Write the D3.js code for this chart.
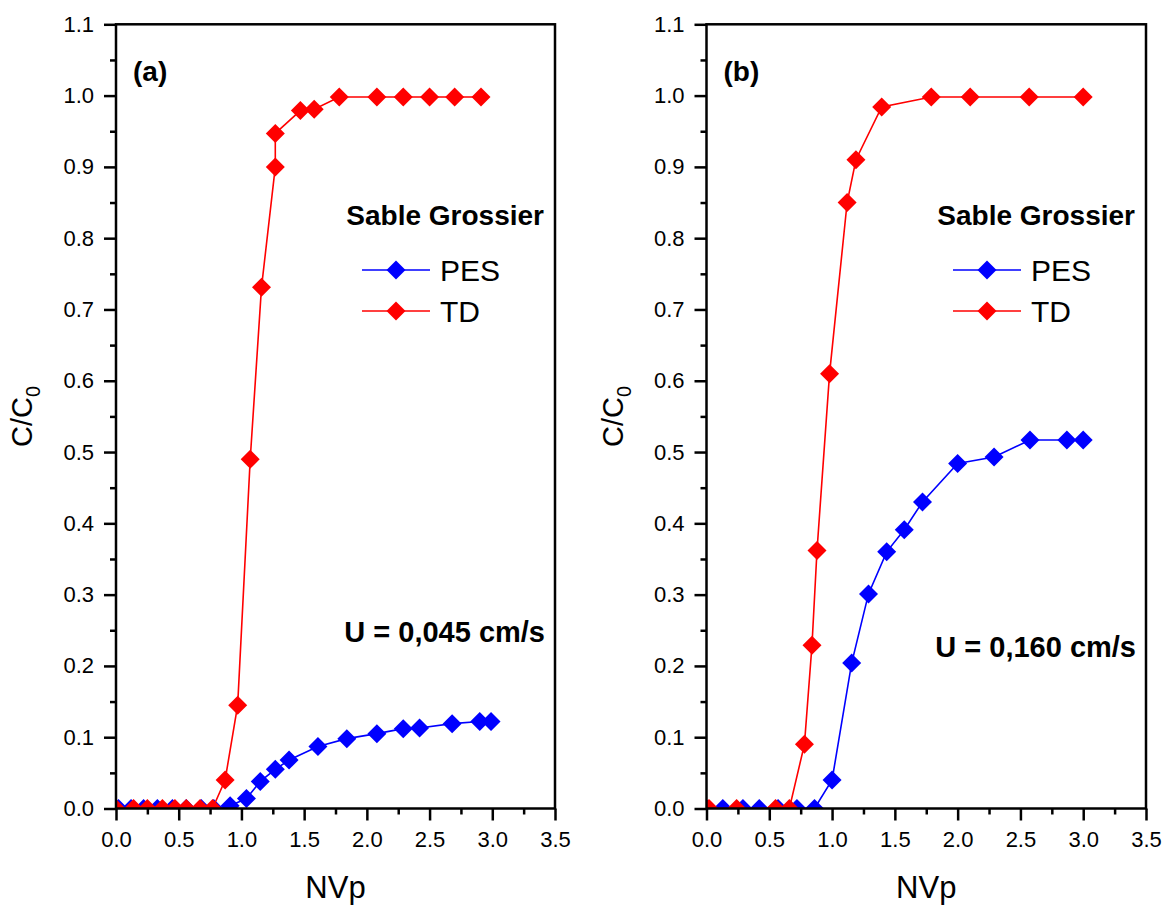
<!DOCTYPE html>
<html><head><meta charset="utf-8">
<script src="https://cdn.jsdelivr.net/npm/d3@7"></script>
<style>
body{margin:0;background:#fff;}
text{font-family:"Liberation Sans",Arial,sans-serif;}
</style></head>
<body><svg id="c" width="1168" height="913"></svg>
<script>
// Panel (a) U = 0,045 cm/s
const pesA_x = [0.02,0.12,0.22,0.33,0.45,0.56,0.68,0.78,0.91,1.04,1.15,1.27,1.38,1.61,1.84,2.08,2.29,2.42,2.68,2.90,2.99];
const pesA_y = [0,0,0,0,0,0,0,0,0.004,0.014,0.038,0.055,0.068,0.087,0.098,0.105,0.112,0.113,0.119,0.122,0.122];
const tdA_x = [0.0,0.14,0.25,0.37,0.47,0.56,0.67,0.77,0.87,0.97,1.07,1.16,1.27,1.27,1.47,1.58,1.78,2.08,2.29,2.50,2.70,2.91];
const tdA_y = [0,0,0,0,0,0,0,0,0.04,0.145,0.49,0.731,0.90,0.947,0.979,0.981,0.998,0.998,0.998,0.998,0.998,0.998];
// Panel (b) U = 0,160 cm/s
const pesB_x = [0.0,0.13,0.29,0.42,0.57,0.72,0.86,1.0,1.156,1.29,1.435,1.575,1.72,2.0,2.29,2.576,2.87,3.0];
const pesB_y = [0,0,0,0,0,0,0,0.04,0.204,0.301,0.36,0.391,0.43,0.484,0.493,0.517,0.517,0.517];
const tdB_x = [0.02,0.24,0.55,0.66,0.78,0.84,0.88,0.98,1.12,1.19,1.395,1.79,2.1,2.57,3.0];
const tdB_y = [0,0,0,0,0.09,0.229,0.362,0.61,0.85,0.91,0.984,0.998,0.998,0.998,0.998];
const xTicks = [0,0.5,1,1.5,2,2.5,3,3.5];
const yTicks = [0,0.1,0.2,0.3,0.4,0.5,0.6,0.7,0.8,0.9,1.0,1.1];
const panelLabels = ["(a)","(b)"];
const velocityLabels = ["U = 0,045 cm/s","U = 0,160 cm/s"];
const legendTitle = "Sable Grossier";
const seriesNames = ["PES","TD"];
const seriesColors = ["#0000ff","#ff0000"];

const svg = d3.select("#c");
const y = d3.scaleLinear().domain([0,1.1]).range([808.5,24.3]);
const panels = [
  {x0:116, x1:555, pes:[pesA_x,pesA_y], td:[tdA_x,tdA_y], lab:panelLabels[0], u:velocityLabels[0], uY:642},
  {x0:706.5, x1:1146, pes:[pesB_x,pesB_y], td:[tdB_x,tdB_y], lab:panelLabels[1], u:velocityLabels[1], uY:657}
];
const diamond = r => `M0,${-r}L${r},0L0,${r}L${-r},0Z`;

panels.forEach((p,pi)=>{
  const x = d3.scaleLinear().domain([0,3.5]).range([p.x0,p.x1]);
  const g = svg.append("g");
  const cid = "clip"+pi;
  svg.append("clipPath").attr("id",cid).append("rect")
    .attr("x",p.x0).attr("y",y(1.1)).attr("width",p.x1-p.x0).attr("height",y(0)-y(1.1));
  // series (clipped to plot area)
  const sg = g.append("g").attr("clip-path",`url(#${cid})`);
  [[p.pes,seriesColors[0]],[p.td,seriesColors[1]]].forEach(([s,c])=>{
    const pts = s[0].map((v,i)=>[x(v),y(s[1][i])]);
    sg.append("path").attr("d",d3.line()(pts)).attr("fill","none").attr("stroke",c).attr("stroke-width",1.6);
    sg.selectAll(null).data(pts).enter().append("path")
      .attr("transform",d=>`translate(${d[0]},${d[1]})`).attr("d",diamond(9.5)).attr("fill",c);
  });
  // frame
  g.append("rect").attr("x",p.x0).attr("y",y(1.1)).attr("width",p.x1-p.x0).attr("height",y(0)-y(1.1))
    .attr("fill","none").attr("stroke","#000").attr("stroke-width",2.5);
  // axes
  const xa = g.append("g").attr("transform",`translate(0,${y(0)})`)
    .call(d3.axisBottom(x).tickValues(xTicks).tickFormat(d3.format(".1f")).tickSize(12).tickPadding(11));
  const xm = g.append("g").attr("transform",`translate(0,${y(0)})`)
    .call(d3.axisBottom(x).tickValues(d3.range(0.25,3.5,0.5)).tickFormat("").tickSize(6));
  const ya = g.append("g").attr("transform",`translate(${p.x0},0)`)
    .call(d3.axisLeft(y).tickValues(yTicks).tickFormat(d3.format(".1f")).tickSize(12).tickPadding(10));
  const ym = g.append("g").attr("transform",`translate(${p.x0},0)`)
    .call(d3.axisLeft(y).tickValues(d3.range(0.05,1.1,0.1)).tickFormat("").tickSize(6));
  [xa,xm,ya,ym].forEach(a=>{
    a.select(".domain").remove();
    a.selectAll("line").attr("stroke","#000").attr("stroke-width",2.5);
    a.selectAll("text").attr("fill","#000").style("font-size","22px").style("font-family","'Liberation Sans',Arial,sans-serif");
  });
  // axis titles
  g.append("text").attr("x",(p.x0+p.x1)/2).attr("y",898).attr("text-anchor","middle")
    .style("font-size","31px").text("NVp");
  const yt = g.append("text").attr("transform",`translate(${p.x0-84},${(y(0)+y(1.1))/2}) rotate(-90)`)
    .attr("text-anchor","middle").style("font-size","29px");
  yt.append("tspan").text("C/C");
  yt.append("tspan").attr("dy",8).style("font-size","20px").text("0");
  // panel label
  g.append("text").attr("x",p.x0+17).attr("y",81).style("font-size","28px").style("font-weight","bold").text(p.lab);
  // legend
  g.append("text").attr("x",p.x1-11).attr("y",225).attr("text-anchor","end")
    .style("font-size","28px").style("font-weight","bold").text(legendTitle);
  seriesNames.forEach((n,i)=>{
    const ly = 270+41*i;
    g.append("line").attr("x1",p.x1-193).attr("x2",p.x1-125).attr("y1",ly).attr("y2",ly)
      .attr("stroke",seriesColors[i]).attr("stroke-width",1.6);
    g.append("path").attr("transform",`translate(${p.x1-159},${ly})`).attr("d",diamond(9.5)).attr("fill",seriesColors[i]);
    g.append("text").attr("x",p.x1-115).attr("y",ly+11).style("font-size","30px").text(n);
  });
  g.append("text").attr("x",p.x1-10).attr("y",p.uY).attr("text-anchor","end")
    .style("font-size","29px").style("font-weight","bold").text(p.u);
});
</script></body></html>
